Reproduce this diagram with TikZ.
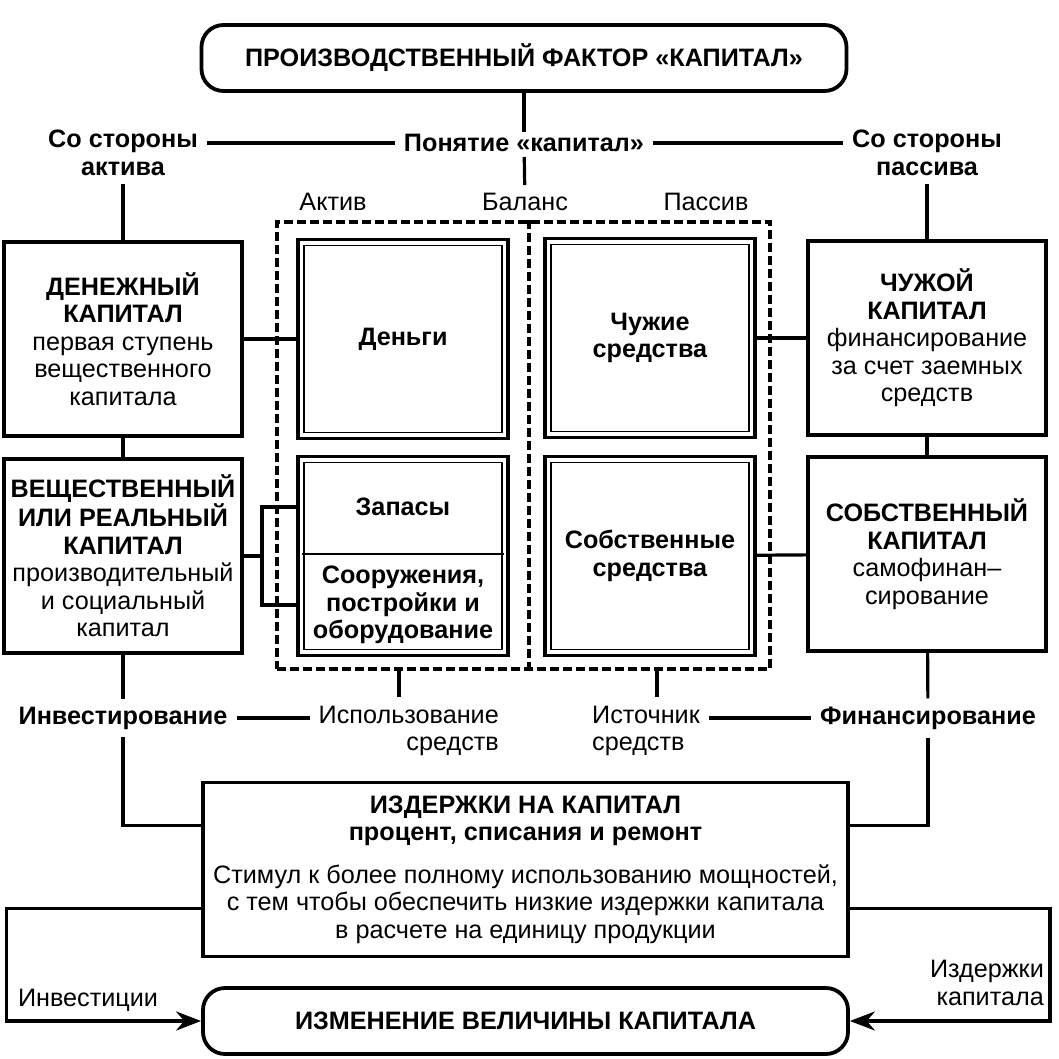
\documentclass[tikz,border=0pt]{standalone}
\usepackage{fontspec}
\setmainfont{Liberation Sans}
\usetikzlibrary{arrows.meta}

\begin{document}
\begin{tikzpicture}[x=1pt,y=-1pt,
    txt/.style={font=\fontsize{25.2}{27.5}\selectfont, inner sep=2pt},
    hd/.style={txt, font=\fontsize{25.2}{27.5}\selectfont\bfseries, align=center},
    conn/.style={line width=3.2pt},
    gap/.style={shorten <=7pt, shorten >=7pt},
    arr/.style={conn, -{Stealth[length=25pt,width=19pt]}},
    sidebox/.style={txt, draw, line width=3.8pt, minimum width=238, minimum height=194, align=center},
    dbox/.style={txt, draw, line width=3.8pt, minimum width=210, minimum height=199, align=center,
      path picture={\draw[line width=1.8pt] ([shift={(6pt,-6pt)}]path picture bounding box.north west)
        rectangle ([shift={(-6pt,6pt)}]path picture bounding box.south east);}},
    roundbox/.style={txt, draw, line width=3.8pt, rounded corners=22pt, minimum width=645, minimum height=66},
    dashbox/.style={draw, line width=3.8pt, dash pattern=on 9pt off 4pt}]
  \useasboundingbox (0,0) rectangle (1058,1059);
  % title and the concept row
  \node[roundbox] (title) at (524,58) {\textbf{ПРОИЗВОДСТВЕННЫЙ ФАКТОР «КАПИТАЛ»}};
  \node[hd] (concept) at (524,143) {Понятие «капитал»};
  \node[hd] (aktside) at (123,153) {Со стороны\\актива};
  \node[hd] (passside) at (927,153) {Со стороны\\пассива};
  \node[txt] (aktivlbl) at (333,202) {Актив};
  \node[txt] (balanslbl) at (525,202) {Баланс};
  \node[txt] (passivlbl) at (706,202) {Пассив};
  \draw[conn] (title) -- (concept);
  \draw[conn, shorten <=3pt, shorten >=6pt] (concept) -- (balanslbl);
  \draw[conn, gap] (concept.west) -- (concept.west -| aktside.east);
  \draw[conn, gap] (concept.east) -- (concept.east -| passside.west);

  % balance (dashed) with the four double boxes
  \node[dashbox, minimum width=493, minimum height=447] (balance) at (523.5,445.5) {};
  \coordinate (mid) at (529,0);
  \draw[dashbox] (balance.north -| mid) -- (balance.south -| mid);
  \node[dbox] (dengi) at (403,339) {\textbf{Деньги}};
  \node[dbox] (stock) at (403,556) {};
  \draw[line width=1.8pt] ([shift={(6pt,2pt)}]stock.west) -- ([shift={(-6pt,2pt)}]stock.east);
  \node[txt] (zapasy) at (403,507) {\textbf{Запасы}};
  \node[txt, align=center] (sooruzh) at (403,605) {\textbf{Сооружения,}\\\textbf{постройки и}\\\textbf{оборудование}};
  \node[dbox] (chsr) at (650,338) {\textbf{Чужие}\\\textbf{средства}};
  \node[dbox] (sobsr) at (650,556) {\textbf{Собственные}\\\textbf{средства}};

  % capital boxes on both sides
  \node[sidebox] (denkap) at (123,339) {\textbf{ДЕНЕЖНЫЙ}\\\textbf{КАПИТАЛ}\\первая ступень\\вещественного\\капитала};
  \node[sidebox] (realkap) at (123,556) {\textbf{ВЕЩЕСТВЕННЫЙ}\\\textbf{ИЛИ РЕАЛЬНЫЙ}\\\textbf{КАПИТАЛ}\\производительный\\и социальный\\капитал};
  \node[sidebox] (chkap) at (927,338) {\textbf{ЧУЖОЙ}\\\textbf{КАПИТАЛ}\\финансирование\\за счет заемных\\средств};
  \node[sidebox] (sobkap) at (927,554) {\textbf{СОБСТВЕННЫЙ}\\\textbf{КАПИТАЛ}\\самофинан--\\сирование};
  \draw[conn, shorten <=6pt] (aktside) -- (denkap);
  \draw[conn, shorten <=6pt] (passside) -- (chkap);
  \draw[conn] (denkap) -- (realkap);
  \draw[conn] (chkap) -- (sobkap);
  \draw[conn] (denkap) -- (dengi);
  \draw[conn] (chsr) -- (chkap);
  \draw[conn] (sobsr) -- (sobkap);
  \coordinate (brk) at (262,0);
  \draw[conn] (realkap.east) -- (realkap.east -| brk);
  \draw[conn] (stock.west |- zapasy) -| (brk |- sooruzh) -- (stock.west |- sooruzh);

  % use and source of funds
  \node[hd] (invest) at (123,718) {Инвестирование};
  \node[txt, align=right, anchor=east] (usage) at (501,731) {Использование\\средств};
  \node[txt, align=left, anchor=west] (source) at (590,731) {Источник\\средств};
  \node[hd] (finance) at (928,718) {Финансирование};
  \coordinate (usetick) at (399,697);
  \coordinate (srctick) at (657,697);
  \draw[conn] (balance.south -| usetick) -- (usetick);
  \draw[conn] (balance.south -| srctick) -- (srctick);
  \draw[conn, shorten >=6pt] (realkap) -- (invest);
  \draw[conn, shorten >=6pt] (sobkap) -- (finance);
  \draw[conn, gap] (invest.east) -- (invest.east -| usage.west);
  \draw[conn, gap] (source.east |- finance.west) -- (finance.west);

  % costs of capital and change of capital
  \node[sidebox, minimum width=645, minimum height=174] (costs) at (525.5,869.5)
    {\textbf{ИЗДЕРЖКИ НА КАПИТАЛ}\\\textbf{процент, списания и ремонт}\\[15pt]
     Стимул к более полному использованию мощностей,\\с тем чтобы обеспечить низкие издержки капитала\\в расчете на единицу продукции};
  \node[roundbox] (change) at (525.5,1021) {\textbf{ИЗМЕНЕНИЕ ВЕЛИЧИНЫ КАПИТАЛА}};
  \draw[conn, shorten <=6pt] (invest) |- ([yshift=44pt]costs.west);
  \draw[conn, shorten <=6pt] (finance) |- ([yshift=44pt]costs.east);
  \draw[arr] ([yshift=-39pt]costs.west) -- ++(-195,0) |- (change.west);
  \draw[arr] ([yshift=-39pt]costs.east) -- ++(200,0) |- (change.east);
  \node[txt] (investlbl) at (88,1000) {Инвестиции};
  \node[txt, align=right, anchor=east] (costlbl) at (1046,983) {Издержки\\капитала};
\end{tikzpicture}
\end{document}
